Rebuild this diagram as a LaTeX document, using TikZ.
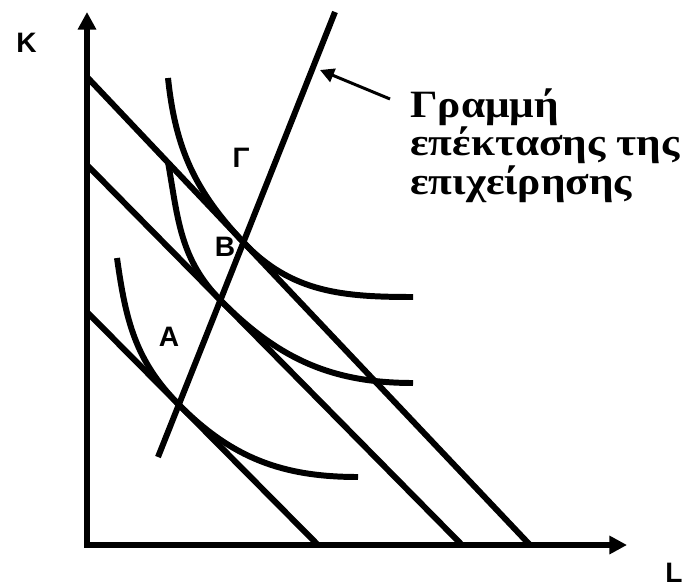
\documentclass[tikz,border=0pt]{standalone}
\usepackage{fontspec}
\setmainfont{Liberation Serif}
\newfontfamily\labfont{Liberation Sans}
\newfontfamily\notefont{Liberation Serif}[FakeStretch=1.12]
\usetikzlibrary{intersections, arrows.meta, calc}

\begin{document}
\begin{tikzpicture}[
  thick line/.style={line width=3.4pt},
  lab/.style={font=\labfont\bfseries\fontsize{16}{18}\selectfont, inner sep=0pt},
  note/.style={font=\notefont\bfseries\fontsize{22}{22.1}\selectfont, align=left, inner sep=0pt}
]

  \useasboundingbox (-1.74, -0.84) rectangle (11.98, 10.9);

  % axes
  \draw[thick line, line join=miter,
        {Triangle[length=10pt, width=10pt]}-{Triangle[length=10pt, width=10pt]}]
    (0, 10.66) -- (0, 0) -- (10.8, 0);

  \node[lab] (k) at (-1.21, 10.04) {K};
  \node[lab] (l) at (11.74, -0.56) {L};

  % isocost lines
  \draw[thick line, name path=c1] (0, 9.36) -- (8.86, 0);
  \draw[thick line, name path=c2] (0, 7.60) -- (7.50, 0);
  \draw[thick line, name path=c3] (0, 4.66) -- (4.62, 0);

  % expansion path
  \draw[thick line, name path=exp] (1.42, 1.76) -- (4.96, 10.66);

  \path[name intersections={of=c1 and exp, by=t1}];
  \path[name intersections={of=c2 and exp, by=t2}];
  \path[name intersections={of=c3 and exp, by=t3}];

  % isoquants
  \draw[thick line] (1.62, 9.34) to[out=-84, in=133.4] (t1)
                    to[out=-46.6, in=180] (6.52, 4.96);
  \draw[thick line] (1.62, 7.66) to[out=-80, in=134.6] (t2)
                    to[out=-45.4, in=180] (6.52, 3.24);
  \draw[thick line] (0.60, 5.74) to[out=-82, in=134.8] (t3)
                    to[out=-45.2, in=180] (5.42, 1.36);

  \node[lab] (gamma) at (3.08, 7.74) {Γ};
  \node[lab] (beta)  at (2.76, 5.96) {Β};
  \node[lab] (alpha) at (1.64, 4.16) {Α};

  \node[note, anchor=north west] (note) at (6.46, 9.14)
    {Γραμμή\\επέκτασης της\\επιχείρησης};

  \coordinate (tail) at ($(note.north west) + (-0.4, -0.22)$);
  \coordinate (tip)  at (4.66, 9.5);
  \draw[line width=1.7pt, -{Triangle[length=8pt, width=8pt]}] (tail) -- (tip);

\end{tikzpicture}
\end{document}
